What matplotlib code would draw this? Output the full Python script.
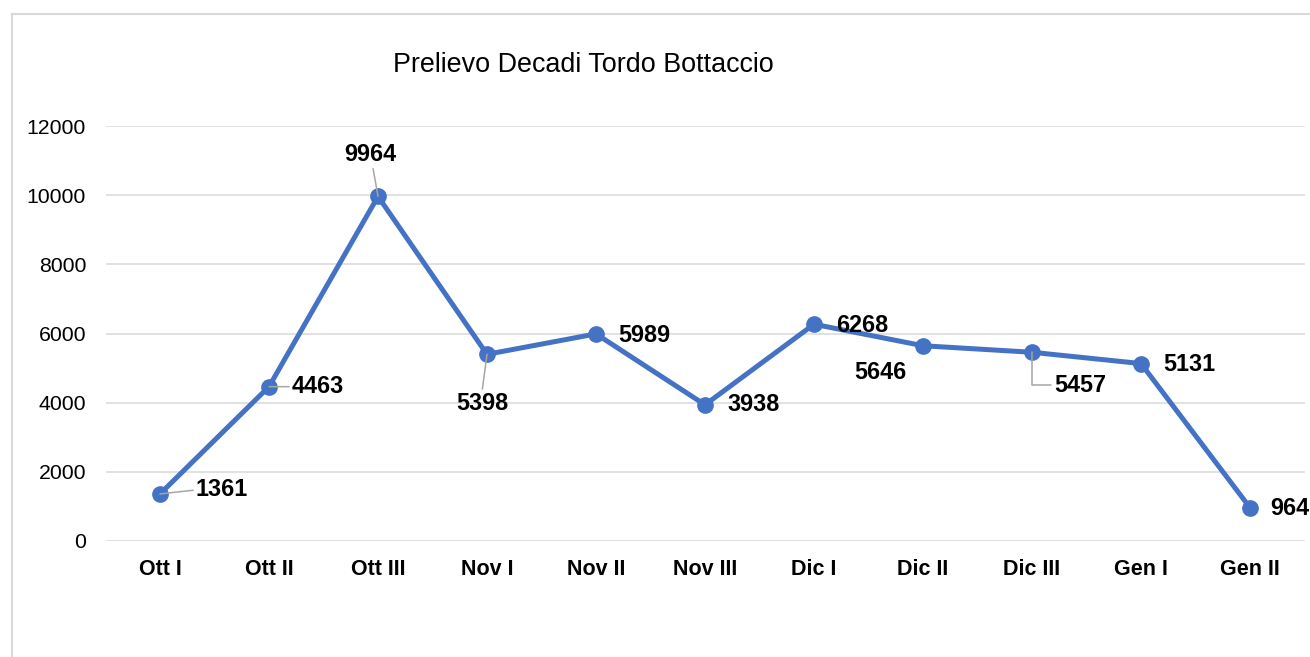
import matplotlib.pyplot as plt
from matplotlib.lines import Line2D

plt.rcParams['font.family'] = ['Liberation Sans', 'DejaVu Sans']

# --- DATA ---
decadi = ["Ott I", "Ott II", "Ott III", "Nov I", "Nov II", "Nov III",
          "Dic I", "Dic II", "Dic III", "Gen I", "Gen II"]
prelievo = [1361, 4463, 9964, 5398, 5989, 3938, 6268, 5646, 5457, 5131, 964]
y_ticks = [0, 2000, 4000, 6000, 8000, 10000, 12000]

# label offsets in pixels from each point (dx, dy), and leader style
label_offsets = [(62, 4), (49, 0), (-8, 42), (-5, -49), (48, -2), (49, 0),
                 (48, -1), (-43, -27), (48, -33), (48, -1), (40, -1)]
leaders = {0: ("straight", (0, 0.5)), 1: ("straight", (0, 0.5)),
           2: ("straight", (0.55, 0)), 3: ("straight", (0.5, 1)),
           8: ("angle", (0, 0.5))}

BLUE = "#4472C4"
GRID = "#d9d9d9"

fig = plt.figure(figsize=(13.1, 6.57), dpi=100)
ax = fig.add_axes([105.5 / 1310, 1 - 541 / 657, 1199 / 1310, 415 / 657])

x = list(range(len(decadi)))
ax.plot(x, prelievo, color=BLUE, linewidth=3.6, marker='o', markersize=11,
        solid_capstyle='round', zorder=3)

ax.set_xlim(-0.5, len(decadi) - 0.5)
ax.set_ylim(0, 12000)
ax.set_yticks(y_ticks)
ax.set_yticklabels([str(t) for t in y_ticks], fontsize=15.3)
ax.set_xticks(x)
ax.set_xticklabels(decadi, fontsize=15.5, fontweight='bold')
ax.tick_params(axis='y', length=0, pad=14)
ax.tick_params(axis='x', length=0, pad=13)
ax.grid(axis='y', color=GRID, linewidth=1.1)
ax.set_axisbelow(True)
for s in ax.spines.values():
    s.set_visible(False)

for i, (xi, yi) in enumerate(zip(x, prelievo)):
    dx, dy = label_offsets[i]
    kw = {}
    if i in leaders:
        kind, rel = leaders[i]
        cs = "angle,angleA=0,angleB=90,rad=0" if kind == "angle" else "arc3"
        kw['arrowprops'] = dict(arrowstyle='-', color='#a6a6a6', lw=1.1,
                                shrinkA=0, shrinkB=0, relpos=rel,
                                connectionstyle=cs)
    ax.annotate(str(yi), xy=(xi, yi), xytext=(dx, dy),
                textcoords='offset pixels', ha='center', va='center',
                fontsize=16.8, fontweight='bold', annotation_clip=False,
                zorder=4, **kw)

fig.text(583 / 1310, 1 - 65 / 657, "Prelievo Decadi Tordo Bottaccio",
         ha='center', va='center', fontsize=19.4)

# chart border
bx, by = 12 / 1310, 1 - 14 / 657
fig.add_artist(Line2D([bx, 1.0], [by, by], color=GRID, linewidth=1.5))
fig.add_artist(Line2D([bx, bx], [0, by], color=GRID, linewidth=1.5))

fig.savefig("out.png", dpi=100)
